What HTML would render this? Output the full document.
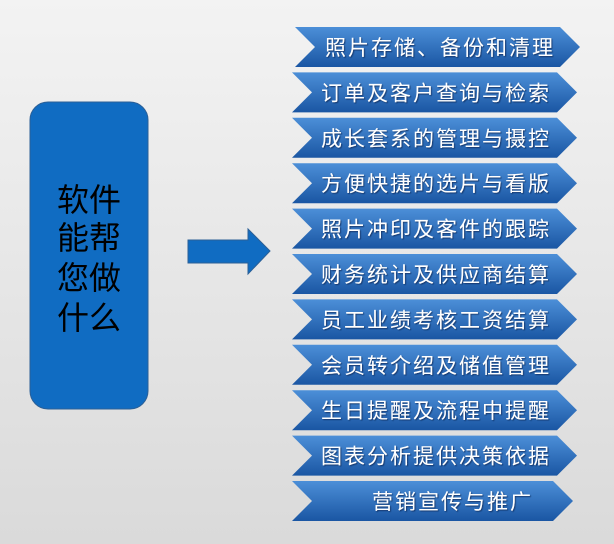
<!DOCTYPE html>
<html><head><meta charset="utf-8"><style>
html,body{margin:0;padding:0;}
body{width:614px;height:544px;overflow:hidden;background:linear-gradient(180deg,#f3f3f3,#dadada);}
svg{display:block}
text{font-family:"Liberation Sans","Noto Sans CJK SC",sans-serif;}
</style></head><body>
<svg width="614" height="544" viewBox="0 0 614 544">
<defs>
<linearGradient id="g" x1="0" y1="0" x2="0" y2="1">
<stop offset="0" stop-color="#4c8fd8"/><stop offset="1" stop-color="#1a56a3"/>
</linearGradient>
<filter id="s" x="-5%" y="-20%" width="110%" height="140%"><feDropShadow dx="1" dy="1" stdDeviation="0.6" flood-color="#0a2a5a" flood-opacity="0.8"/></filter>
</defs>
<rect x="30" y="102" width="118" height="307" rx="18" fill="#106cc2" stroke="#2b5f96" stroke-width="1"/>
<g font-size="32" fill="#000" text-anchor="middle">
<text x="89" y="211">软件</text>
<text x="89" y="249">能帮</text>
<text x="89" y="289">您做</text>
<text x="89" y="329">什么</text>
</g>
<polygon points="188,240 248,240 248,229 270,251 248,274 248,263 188,263" fill="#106cc2" stroke="#2b5f96" stroke-width="1"/>
<g fill="url(#g)">
<polygon points="295,27 560,27 580,47 560,67 295,67 315,47"/>
<polygon points="292,72.4 557,72.4 577,92.4 557,112.4 292,112.4 312,92.4"/>
<polygon points="292,117.8 557,117.8 577,137.8 557,157.8 292,157.8 312,137.8"/>
<polygon points="292,163.2 557,163.2 577,183.2 557,203.2 292,203.2 312,183.2"/>
<polygon points="292,208.6 557,208.6 577,228.6 557,248.6 292,248.6 312,228.6"/>
<polygon points="292,254 557,254 577,274 557,294 292,294 312,274"/>
<polygon points="292,299.4 557,299.4 577,319.4 557,339.4 292,339.4 312,319.4"/>
<polygon points="292,344.8 557,344.8 577,364.8 557,384.8 292,384.8 312,364.8"/>
<polygon points="292,390.2 557,390.2 577,410.2 557,430.2 292,430.2 312,410.2"/>
<polygon points="292,435.6 557,435.6 577,455.6 557,475.6 292,475.6 312,455.6"/>
<polygon points="292,481 553,481 573,501 553,521 292,521 312,501"/>
</g>
<g font-size="21" letter-spacing="2" fill="#fff" filter="url(#s)">
<text x="325" y="55">照片存储、备份和清理</text>
<text x="321" y="100.4">订单及客户查询与检索</text>
<text x="321" y="145.8">成长套系的管理与摄控</text>
<text x="321" y="191.2">方便快捷的选片与看版</text>
<text x="321" y="236.6">照片冲印及客件的跟踪</text>
<text x="321" y="282">财务统计及供应商结算</text>
<text x="321" y="327.4">员工业绩考核工资结算</text>
<text x="321" y="372.8">会员转介绍及储值管理</text>
<text x="321" y="418.2">生日提醒及流程中提醒</text>
<text x="321" y="463.6">图表分析提供决策依据</text>
<text x="372" y="509">营销宣传与推广</text>
</g>
</svg>
</body></html>
